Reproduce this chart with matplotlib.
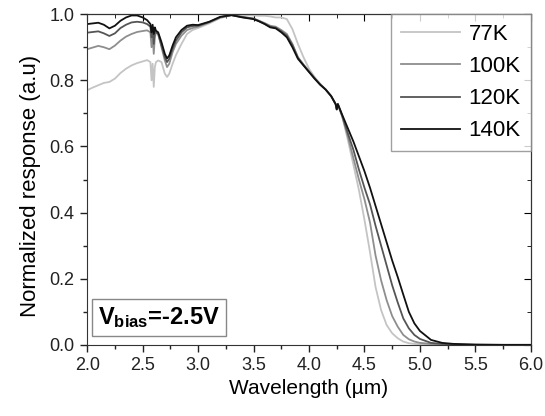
import matplotlib
matplotlib.use("Agg")
import matplotlib.pyplot as plt
from matplotlib.ticker import MultipleLocator

plt.rcParams['font.family'] = ['Liberation Sans', 'DejaVu Sans']
plt.rcParams['mathtext.fontset'] = 'custom'
plt.rcParams['mathtext.rm'] = 'Liberation Sans'
plt.rcParams['mathtext.bf'] = 'Liberation Sans:bold'

# wavelength grid (um)
wl = [2.00, 2.05, 2.10, 2.15, 2.20, 2.25, 2.30, 2.35, 2.40, 2.45,
      2.50, 2.54, 2.57, 2.58, 2.59, 2.60, 2.61, 2.62, 2.64, 2.67,
      2.70, 2.72, 2.74, 2.77, 2.80, 2.85, 2.90, 2.95, 3.00, 3.10,
      3.20, 3.30, 3.40, 3.50, 3.55, 3.60, 3.65, 3.70, 3.75, 3.80,
      3.85, 3.90, 3.95, 4.00, 4.05, 4.10, 4.15, 4.20, 4.24, 4.25,
      4.26, 4.30, 4.35, 4.40, 4.45, 4.50, 4.55, 4.60, 4.65, 4.70,
      4.75, 4.80, 4.85, 4.90, 4.95, 5.00, 5.10, 5.20, 5.30, 5.50,
      5.75, 6.00]

r77 = [0.770, 0.778, 0.785, 0.792, 0.795, 0.805, 0.822, 0.835, 0.845, 0.852,
       0.857, 0.861, 0.855, 0.800, 0.850, 0.780, 0.840, 0.855, 0.860, 0.855,
       0.820, 0.810, 0.820, 0.850, 0.876, 0.910, 0.940, 0.952, 0.958, 0.972,
       0.988, 0.997, 0.998, 0.996, 0.995, 0.995, 0.993, 0.990, 0.990, 0.985,
       0.955, 0.910, 0.870, 0.835, 0.810, 0.790, 0.772, 0.752, 0.728, 0.712,
       0.728, 0.690, 0.620, 0.545, 0.468, 0.378, 0.280, 0.175, 0.105, 0.060,
       0.035, 0.020, 0.010, 0.005, 0.003, 0.002, 0.001, 0.0, 0.0, 0.0,
       0.0, 0.0]

r100 = [0.894, 0.899, 0.904, 0.900, 0.894, 0.905, 0.920, 0.932, 0.940, 0.946,
        0.949, 0.951, 0.945, 0.900, 0.940, 0.880, 0.930, 0.945, 0.940, 0.900,
        0.860, 0.840, 0.850, 0.885, 0.910, 0.935, 0.952, 0.958, 0.962, 0.975,
        0.990, 0.997, 0.992, 0.987, 0.980, 0.973, 0.965, 0.962, 0.952, 0.940,
        0.910, 0.870, 0.848, 0.828, 0.807, 0.788, 0.772, 0.752, 0.728, 0.712,
        0.728, 0.690, 0.630, 0.565, 0.500, 0.440, 0.370, 0.270, 0.195, 0.135,
        0.087, 0.055, 0.030, 0.017, 0.010, 0.006, 0.003, 0.001, 0.0, 0.0,
        0.0, 0.0]

r120 = [0.944, 0.946, 0.948, 0.942, 0.934, 0.942, 0.958, 0.968, 0.975, 0.977,
        0.975, 0.970, 0.962, 0.930, 0.960, 0.910, 0.950, 0.945, 0.940, 0.905,
        0.870, 0.855, 0.865, 0.895, 0.920, 0.945, 0.960, 0.964, 0.965, 0.976,
        0.991, 0.997, 0.991, 0.986, 0.979, 0.971, 0.962, 0.959, 0.948, 0.935,
        0.907, 0.868, 0.846, 0.826, 0.806, 0.787, 0.772, 0.752, 0.728, 0.712,
        0.728, 0.692, 0.640, 0.590, 0.530, 0.475, 0.425, 0.360, 0.300, 0.240,
        0.180, 0.128, 0.080, 0.050, 0.030, 0.018, 0.006, 0.003, 0.001, 0.0,
        0.0, 0.0]

r140 = [0.970, 0.972, 0.974, 0.968, 0.957, 0.965, 0.980, 0.990, 0.996, 0.996,
        0.990, 0.982, 0.970, 0.945, 0.968, 0.940, 0.960, 0.950, 0.945, 0.915,
        0.880, 0.866, 0.875, 0.905, 0.930, 0.952, 0.965, 0.968, 0.967, 0.977,
        0.992, 0.997, 0.990, 0.985, 0.978, 0.970, 0.960, 0.957, 0.945, 0.930,
        0.900, 0.865, 0.845, 0.825, 0.805, 0.787, 0.772, 0.752, 0.728, 0.712,
        0.728, 0.695, 0.655, 0.615, 0.570, 0.525, 0.475, 0.420, 0.365, 0.310,
        0.255, 0.205, 0.152, 0.100, 0.065, 0.042, 0.015, 0.006, 0.003, 0.001,
        0.0, 0.0]

labels = ['77K', '100K', '120K', '140K']
colors = ['#c4c4c4', '#8e8e8e', '#555555', '#111111']

fig = plt.figure(figsize=(5.45, 4.16), dpi=100)
ax = fig.add_axes([0.160, 0.171, 0.814, 0.795])

for y, lab, c in zip([r77, r100, r120, r140], labels, colors):
    ax.plot(wl, y, color=c, lw=1.3, label=lab)

ax.set_xlim(2.0, 6.0)
ax.set_ylim(0.0, 1.0)
ax.xaxis.set_major_locator(MultipleLocator(0.5))
ax.xaxis.set_minor_locator(MultipleLocator(0.25))
ax.yaxis.set_major_locator(MultipleLocator(0.2))
ax.yaxis.set_minor_locator(MultipleLocator(0.1))
ax.tick_params(which='both', direction='out', labelsize=13, colors='#222222')
ax.tick_params(which='major', length=5, width=1, pad=4)
ax.tick_params(which='minor', length=3, width=1)

# inward ticks on top and right
top = ax.secondary_xaxis('top')
top.xaxis.set_major_locator(MultipleLocator(0.5))
top.xaxis.set_minor_locator(MultipleLocator(0.25))
top.tick_params(which='both', direction='in', labeltop=False)
top.tick_params(which='major', length=5)
top.tick_params(which='minor', length=3)
right = ax.secondary_yaxis('right')
right.yaxis.set_major_locator(MultipleLocator(0.2))
right.yaxis.set_minor_locator(MultipleLocator(0.1))
right.tick_params(which='both', direction='in', labelright=False)
right.tick_params(which='major', length=5)
right.tick_params(which='minor', length=3)

for s in ax.spines.values():
    s.set_color('#333333')

ax.set_xlabel('Wavelength (µm)', fontsize=15, labelpad=3)
ax.set_ylabel('Normalized response (a.u)', fontsize=16)
ax.yaxis.set_label_coords(-0.105, 0.48)

leg = ax.legend(loc='upper right', fontsize=16, frameon=True, fancybox=False,
                borderaxespad=0.0, handlelength=2.65, handletextpad=0.4,
                labelspacing=0.5, borderpad=0.45)
leg.get_frame().set_edgecolor('#888888')
leg.get_frame().set_linewidth(1.0)

ax.text(0.025, 0.045, r'$\mathbf{V_{bias}}$=-2.5V', transform=ax.transAxes,
        fontsize=17, fontweight='bold', ha='left', va='bottom',
        bbox=dict(boxstyle='square,pad=0.25', fc='white', ec='#888888', lw=1.0))

fig.savefig('out.png', dpi=100)
